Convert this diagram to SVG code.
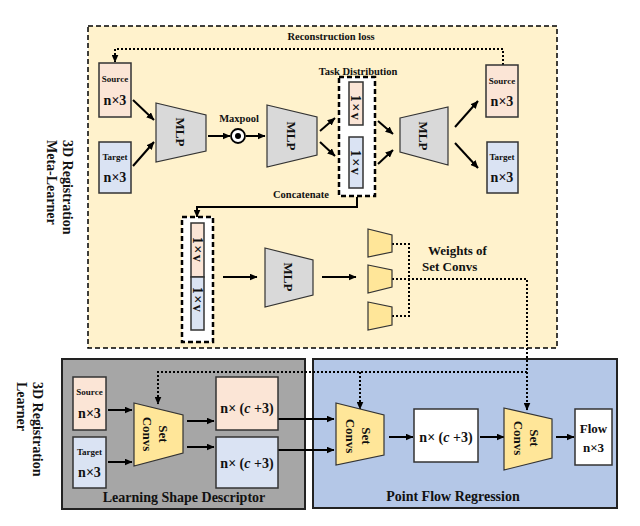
<svg xmlns="http://www.w3.org/2000/svg" width="640" height="526" viewBox="0 0 640 526">
<defs>
<marker id="ah" markerWidth="8" markerHeight="7" refX="7.5" refY="3.5" orient="auto" markerUnits="userSpaceOnUse"><path d="M0,0 L8,3.5 L0,7 z" fill="#000"/></marker>
<style>
text{font-family:"Liberation Serif","Times New Roman",serif;font-weight:bold;fill:#111}
.pink{fill:#FBE5D6;stroke:#333;stroke-width:1.5}
.blue{fill:#DAE3F3;stroke:#333;stroke-width:1.5}
.white{fill:#fff;stroke:#333;stroke-width:1.5}
.mlp{fill:#D9D9D9;stroke:#333;stroke-width:1.2}
.sc{fill:#FFE699;stroke:#333;stroke-width:1.2}
.arr{fill:none;stroke:#000;stroke-width:2;marker-end:url(#ah)}
.dot{fill:none;stroke:#000;stroke-width:2;stroke-dasharray:2,2}
.dash{fill:#fff;stroke:#000;stroke-width:2.5;stroke-dasharray:5,3}
.vx{font-size:14px;letter-spacing:1.5px}
.s9{font-size:9px}.s10{font-size:10.5px}.s13{font-size:13px}.s14{font-size:14px}
</style>
</defs>
<!-- regions -->
<g id="meta-learner">
<rect x="88" y="26" width="469" height="322" fill="#FFF2CC" stroke="#000" stroke-width="1.5" stroke-dasharray="5,3"/>
<text class="s14" transform="translate(63,140) rotate(90)">3D Registration</text>
<text class="s14" transform="translate(47,140) rotate(90)">Meta-Learner</text>
</g>
<g id="learner-label">
<text class="s14" transform="translate(33,382) rotate(90)">3D Registration</text>
<text class="s14" transform="translate(17,382) rotate(90)">Learner</text>
</g>
<g id="shape-descriptor">
<rect x="62" y="359" width="243" height="150" fill="#A6A6A6" stroke="#222" stroke-width="2"/>
<text class="s14" x="184" y="502" text-anchor="middle">Learning Shape Descriptor</text>
</g>
<g id="point-flow">
<rect x="313" y="359" width="304" height="149" fill="#B4C7E7" stroke="#222" stroke-width="2"/>
<text class="s14" x="453" y="501" text-anchor="middle">Point Flow Regression</text>
</g>
<!-- labels -->
<g id="labels">
<text class="s10" x="331" y="40" text-anchor="middle">Reconstruction loss</text>
<text class="s10" x="239" y="122" text-anchor="middle">Maxpool</text>
<text class="s10" x="358" y="75" text-anchor="middle">Task Distribution</text>
<text class="s10" x="301" y="198" text-anchor="middle">Concatenate</text>
<text class="s13" x="428" y="255">Weights of</text>
<text class="s13" x="422" y="271">Set Convs</text>
</g>
<!-- connectors -->
<g id="connectors">
<polyline class="dot" points="503,65 503,49 115,49 115,62" marker-end="url(#ah)" stroke-width="1.6"/>
<line class="arr" x1="133" y1="100" x2="154" y2="120"/>
<line class="arr" x1="133" y1="166" x2="154" y2="142"/>
<line class="arr" x1="208" y1="136" x2="230" y2="136"/>
<line class="arr" x1="246" y1="136" x2="265" y2="136"/>
<line class="arr" x1="320" y1="131" x2="335" y2="118"/>
<line class="arr" x1="320" y1="142" x2="335" y2="156"/>
<line class="arr" x1="378" y1="121" x2="393" y2="134"/>
<line class="arr" x1="378" y1="164" x2="393" y2="150"/>
<line class="arr" x1="455" y1="127" x2="478" y2="101"/>
<line class="arr" x1="455" y1="143" x2="478" y2="168"/>
<polyline class="arr" points="357,197 357,207 197,207 197,217"/>
<line class="arr" x1="223" y1="277" x2="257" y2="277"/>
<line class="arr" x1="322" y1="277" x2="356" y2="277"/>
<polyline class="dot" points="392,244 409,244 409,316 392,316"/>
<polyline class="dot" points="392,279 527,279 527,410" marker-end="url(#ah)"/>
<polyline class="dot" points="527,372 158,372 158,404" marker-end="url(#ah)"/>
<line class="dot" x1="360" y1="372" x2="360" y2="409" marker-end="url(#ah)"/>
<line class="arr" x1="108" y1="410" x2="132" y2="410"/>
<line class="arr" x1="108" y1="462" x2="132" y2="462"/>
<line class="arr" x1="187" y1="421" x2="214" y2="421"/>
<line class="arr" x1="187" y1="447" x2="214" y2="447"/>
<line class="arr" x1="278" y1="419" x2="334" y2="419"/>
<line class="arr" x1="278" y1="450" x2="334" y2="450"/>
<line class="arr" x1="389" y1="437" x2="413" y2="437"/>
<line class="arr" x1="480" y1="437" x2="504" y2="437"/>
<line class="arr" x1="556" y1="437" x2="574" y2="437"/>
</g>
<!-- nodes -->
<g id="src-in">
<rect class="pink" x="99" y="63" width="32" height="54"/>
<text class="s9" x="115" y="82" text-anchor="middle">Source</text>
<text class="s14" x="115" y="105" text-anchor="middle">n×3</text>
</g>
<g id="tgt-in">
<rect class="blue" x="99" y="142" width="32" height="51"/>
<text class="s9" x="115" y="160" text-anchor="middle">Target</text>
<text class="s14" x="115" y="182" text-anchor="middle">n×3</text>
</g>
<g id="mlp1">
<polygon class="mlp" points="156,103 206,115 206,151 156,162"/>
<text class="s13" transform="translate(181,132) rotate(90)" text-anchor="middle" dy="0.35em">MLP</text>
</g>
<g id="maxpool">
<circle cx="238" cy="136" r="7" fill="#fff" stroke="#000" stroke-width="1.8"/>
<circle cx="238" cy="136" r="3" fill="#000"/>
</g>
<g id="mlp2">
<polygon class="mlp" points="267,105 317,117 317,155 267,167"/>
<text class="s13" transform="translate(292,136) rotate(90)" text-anchor="middle" dy="0.35em">MLP</text>
</g>
<g id="task-dist">
<rect class="dash" x="339" y="77" width="36" height="119"/>
<rect class="pink" x="349" y="82" width="14" height="43"/>
<rect class="blue" x="349" y="137" width="14" height="51"/>
<text class="vx" transform="translate(356,108) rotate(90)" text-anchor="middle" dy="0.35em">1×v</text>
<text class="vx" transform="translate(356,163) rotate(90)" text-anchor="middle" dy="0.35em">1×v</text>
</g>
<g id="mlp3">
<polygon class="mlp" points="400,118 448,107 448,165 400,152"/>
<text class="s13" transform="translate(424,136) rotate(90)" text-anchor="middle" dy="0.35em">MLP</text>
</g>
<g id="src-out">
<rect class="pink" x="486" y="65" width="32" height="52"/>
<text class="s9" x="502" y="84" text-anchor="middle">Source</text>
<text class="s14" x="502" y="106" text-anchor="middle">n×3</text>
</g>
<g id="tgt-out">
<rect class="blue" x="487" y="142" width="31" height="51"/>
<text class="s9" x="502" y="160" text-anchor="middle">Target</text>
<text class="s14" x="502" y="182" text-anchor="middle">n×3</text>
</g>
<g id="concat">
<rect class="dash" x="182" y="217" width="31" height="125"/>
<rect class="pink" x="191" y="223" width="13" height="54"/>
<rect class="blue" x="191" y="277" width="13" height="53"/>
<text class="vx" transform="translate(197.5,250) rotate(90)" text-anchor="middle" dy="0.35em">1×v</text>
<text class="vx" transform="translate(197.5,300) rotate(90)" text-anchor="middle" dy="0.35em">1×v</text>
</g>
<g id="mlp4">
<polygon class="mlp" points="265,248 313,260 313,295 265,307"/>
<text class="s13" transform="translate(289,277) rotate(90)" text-anchor="middle" dy="0.35em">MLP</text>
</g>
<g id="weights">
<polygon class="sc" points="368,229 392,235 392,252 368,257"/>
<polygon class="sc" points="368,265 392,270 392,287 368,293"/>
<polygon class="sc" points="368,302 392,307 392,325 368,330"/>
</g>
<g id="src-b">
<rect class="pink" x="73" y="377" width="33" height="53"/>
<text class="s9" x="89.5" y="395" text-anchor="middle">Source</text>
<text class="s14" x="89.5" y="418" text-anchor="middle">n×3</text>
</g>
<g id="tgt-b">
<rect class="blue" x="73" y="437" width="33" height="51"/>
<text class="s9" x="89.5" y="455" text-anchor="middle">Target</text>
<text class="s14" x="89.5" y="477" text-anchor="middle">n×3</text>
</g>
<g id="setconv-a">
<polygon class="sc" points="134,403 183,415 183,453 134,466"/>
<text class="s13" transform="translate(164,434) rotate(90)" text-anchor="middle" dy="0.35em">Set</text>
<text class="s13" transform="translate(148,434) rotate(90)" text-anchor="middle" dy="0.35em">Convs</text>
</g>
<g id="feat-src">
<rect class="pink" x="216" y="377" width="62" height="53"/>
<text class="s14" x="247" y="413" text-anchor="middle">n× (<tspan font-style="italic">c</tspan> +3)</text>
</g>
<g id="feat-tgt">
<rect class="blue" x="216" y="437" width="62" height="51"/>
<text class="s14" x="247" y="468" text-anchor="middle">n× (<tspan font-style="italic">c</tspan> +3)</text>
</g>
<g id="setconv-b">
<polygon class="sc" points="336,403 384,415 384,455 336,465"/>
<text class="s13" transform="translate(367,436) rotate(90)" text-anchor="middle" dy="0.35em">Set</text>
<text class="s13" transform="translate(351,436) rotate(90)" text-anchor="middle" dy="0.35em">Convs</text>
</g>
<g id="feat-mid">
<rect class="white" x="414" y="409" width="64" height="53"/>
<text class="s14" x="446" y="442" text-anchor="middle">n× (<tspan font-style="italic">c</tspan> +3)</text>
</g>
<g id="setconv-c">
<polygon class="sc" points="504,408 552,419 552,458 504,470"/>
<text class="s13" transform="translate(535,438) rotate(90)" text-anchor="middle" dy="0.35em">Set</text>
<text class="s13" transform="translate(519,438) rotate(90)" text-anchor="middle" dy="0.35em">Convs</text>
</g>
<g id="flow">
<rect class="white" x="575" y="409" width="37" height="56"/>
<text class="s13" x="593.5" y="433" text-anchor="middle">Flow</text>
<text class="s13" x="593.5" y="452" text-anchor="middle">n×3</text>
</g>
</svg>
